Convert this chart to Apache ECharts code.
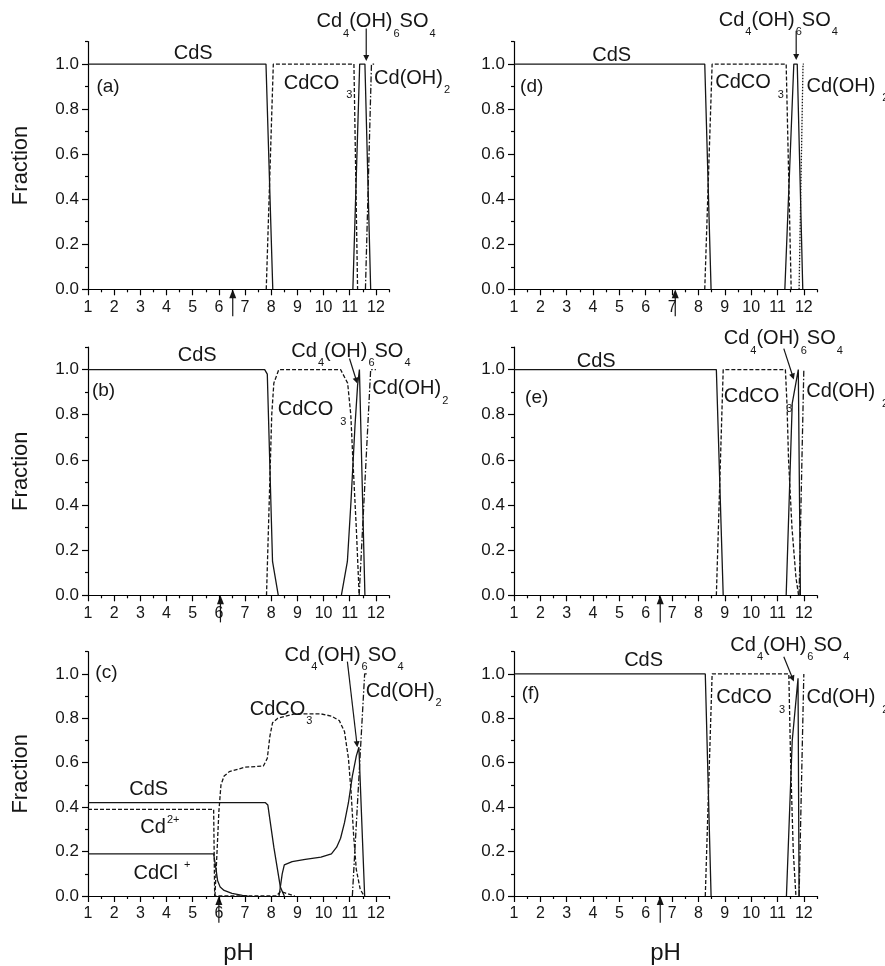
<!DOCTYPE html>
<html>
<head>
<meta charset="utf-8">
<script src="https://cdn.jsdelivr.net/npm/echarts@6/dist/echarts.min.js"></script>
<style>
  html, body { margin: 0; padding: 0; background: #fff; }
  #chart { width: 885px; height: 966px; }
</style>
</head>
<body>
<div id="chart"></div>
<script>
// tick values
const phMajor = [1, 2, 3, 4, 5, 6, 7, 8, 9, 10, 11, 12];
const phMinor = [1.5, 2.5, 3.5, 4.5, 5.5, 6.5, 7.5, 8.5, 9.5, 10.5, 11.5, 12.5];
const fracMajor = [0, 0.2, 0.4, 0.6, 0.8, 1.0];
const fracMinor = [0.1, 0.3, 0.5, 0.7, 0.9, 1.1];

// pH marked by the arrow under each x axis: a, b, c, d, e, f
const markerPH = [6.53, 6.06, 6.0, 7.12, 6.55, 6.55];

// (a)
const cdsA = [[1, 1], [7.8, 1], [8.06, 0]];
const cdco3A = [[7.81, 0], [8.08, 1], [11.16, 1], [11.3, 0]];
const cd4A = [[11.12, 0], [11.38, 1], [11.58, 1], [11.8, 0]];
const cdoh2A = [[11.6, 0], [11.83, 1], [12, 1]];

// (b)
const cdsB = [[1, 1], [7.75, 1], [7.85, 0.98], [8.05, 0.15], [8.27, 0]];
const cdco3B = [[7.82, 0], [7.97, 0.6], [8.02, 0.8], [8.1, 0.94], [8.29, 1], [10.65, 1], [10.92, 0.94], [11.04, 0.8], [11.12, 0.6], [11.25, 0.3], [11.36, 0]];
const cd4B = [[10.68, 0], [10.91, 0.15], [11.05, 0.42], [11.2, 0.75], [11.3, 0.93], [11.37, 1.0], [11.58, 0]];
const cdoh2B = [[11.36, 0], [11.8, 1], [12, 1]];

// (c)
const cdsC = [[1, 0.42], [7.78, 0.42], [7.87, 0.41], [8.1, 0.22], [8.35, 0.04], [8.5, 0]];
const cd2C = [[1, 0.39], [5.8, 0.39], [5.84, 0], [8.2, 0], [8.35, 0.02], [8.5, 0.015], [8.9, 0]];
const cdclC = [[1, 0.19], [5.8, 0.19], [5.88, 0.13], [5.95, 0.07], [6.05, 0.04], [6.2, 0.025], [6.5, 0.012], [6.9, 0.003], [7.1, 0]];
const cdco3C = [[5.85, 0], [5.93, 0.2], [6.0, 0.38], [6.08, 0.5], [6.2, 0.54], [6.4, 0.56], [7.0, 0.58], [7.7, 0.585], [7.85, 0.62], [7.95, 0.72], [8.05, 0.78], [8.25, 0.8], [8.9, 0.82], [9.9, 0.82], [10.3, 0.81], [10.6, 0.79], [10.8, 0.74], [10.95, 0.62], [11.05, 0.47], [11.15, 0.27], [11.25, 0.12], [11.4, 0.03], [11.55, 0]];
const cd4C = [[8.3, 0], [8.42, 0.1], [8.5, 0.14], [8.8, 0.155], [9.3, 0.165], [9.9, 0.175], [10.3, 0.19], [10.5, 0.22], [10.65, 0.26], [10.8, 0.33], [10.95, 0.42], [11.1, 0.54], [11.25, 0.63], [11.35, 0.67], [11.57, 0]];
const cdoh2C = [[11.1, 0], [11.57, 1], [11.67, 1]];

// (d)
const cdsD = [[1, 1], [8.24, 1], [8.48, 0]];
const cdco3D = [[8.24, 0], [8.52, 1], [11.33, 1], [11.52, 0]];
const cd4D = [[11.28, 0], [11.62, 1], [11.75, 1], [11.96, 0]];
const cdoh2D = [[11.82, 0], [11.97, 1], [12, 1]];

// (e)
const cdsE = [[1, 1], [8.68, 1], [8.94, 0]];
const cdco3E = [[8.68, 0], [8.94, 1], [11.3, 1], [11.36, 0.85], [11.42, 0.6], [11.55, 0.3], [11.7, 0.08], [11.8, 0]];
const cd4E = [[11.33, 0], [11.56, 0.85], [11.79, 1.0], [11.87, 0]];
const cdoh2E = [[11.82, 0], [12, 1]];

// (f)
const cdsF = [[1, 1], [8.26, 1], [8.48, 0]];
const cdco3F = [[8.26, 0], [8.52, 1], [11.43, 1], [11.5, 0.6], [11.6, 0.2], [11.7, 0]];
const cd4F = [[11.34, 0], [11.56, 0.7], [11.78, 0.98], [11.82, 0]];
const cdoh2F = [[11.82, 0], [12, 1]];

const FONT = '"Liberation Sans", Arial, Helvetica, sans-serif';
const INK = '#161616';
const DASH = { solid: 'solid', dash: [4, 2], dashdot: [6, 2, 1.5, 2], dot: [1.5, 1.5] };

const cols = [{ left: 88, width: 301 }, { left: 514, width: 303 }];
const rows = [{ top: 41.5, height: 247.8 }, { top: 347, height: 248.3 }, { top: 651.7, height: 247.6 }];

const T_CD4 = '{m|Cd}{s|4}{m|(OH)}{s|6}{m|SO}{s|4}';
const T_CO3 = '{m|CdCO}{g|3}';

const panels = [
  { col: 0, row: 0, tag: '(a)', tagAt: [1.32, 0.897],
    lines: [[cdsA, 'solid'], [cdco3A, 'dash'], [cd4A, 'solid'], [cdoh2A, 'dashdot']],
    labels: [
      { t: '{m|CdS}', at: [5.02, 1.049], align: 'center' },
      { t: T_CO3, at: [8.48, 0.914] },
      { t: '{m|Cd(OH)}{s|2}', at: [11.93, 0.937] },
      { t: T_CD4, at: [9.73, 1.188] }
    ],
    arrows: [[[11.63, 1.158], [11.63, 1.013]]] },
  { col: 0, row: 1, tag: '(b)', tagAt: [1.15, 0.905],
    lines: [[cdsB, 'solid'], [cdco3B, 'dash'], [cd4B, 'solid'], [cdoh2B, 'dashdot']],
    labels: [
      { t: '{m|CdS}', at: [5.17, 1.063], align: 'center' },
      { t: T_CO3, at: [8.25, 0.823] },
      { t: '{m|Cd(OH)}{s|2}', at: [11.86, 0.916] },
      { t: T_CD4, at: [8.77, 1.082] }
    ],
    arrows: [[[10.99, 1.049], [11.29, 0.938]]] },
  { col: 0, row: 2, tag: '(c)', tagAt: [1.28, 1.003],
    lines: [[cdsC, 'solid'], [cd2C, 'dash'], [cdclC, 'solid'], [cdco3C, 'dash'], [cd4C, 'solid'], [cdoh2C, 'dashdot']],
    labels: [
      { t: '{m|CdS}', at: [3.32, 0.478], align: 'center' },
      { t: '{m|Cd}{p|2+}', at: [3.0, 0.308] },
      { t: '{m|CdCl}{q|+}', at: [2.74, 0.103] },
      { t: '{m|CdCO}{s|3}', at: [7.18, 0.84] },
      { t: '{m|Cd(OH)}{s|2}', at: [11.61, 0.921] },
      { t: T_CD4, at: [8.51, 1.084] }
    ],
    arrows: [[[10.91, 1.055], [11.29, 0.67]]] },
  { col: 1, row: 0, tag: '(d)', tagAt: [1.23, 0.9],
    lines: [[cdsD, 'solid'], [cdco3D, 'dash'], [cd4D, 'solid'], [cdoh2D, 'dot']],
    labels: [
      { t: '{m|CdS}', at: [4.71, 1.04], align: 'center' },
      { t: T_CO3, at: [8.64, 0.917] },
      { t: '{m|Cd(OH)}{g|2}', at: [12.1, 0.902] },
      { t: T_CD4, at: [8.77, 1.195] }
    ],
    arrows: [[[11.71, 1.148], [11.71, 1.018]]] },
  { col: 1, row: 1, tag: '(e)', tagAt: [1.42, 0.876],
    lines: [[cdsE, 'solid'], [cdco3E, 'dash'], [cd4E, 'solid'], [cdoh2E, 'dashdot']],
    labels: [
      { t: '{m|CdS}', at: [4.12, 1.034], align: 'center' },
      { t: T_CO3, at: [8.96, 0.879] },
      { t: '{m|Cd(OH)}{g|2}', at: [12.09, 0.901] },
      { t: T_CD4, at: [8.96, 1.137] }
    ],
    arrows: [[[11.24, 1.093], [11.62, 0.956]]] },
  { col: 1, row: 2, tag: '(f)', tagAt: [1.29, 0.911],
    lines: [[cdsF, 'solid'], [cdco3F, 'dash'], [cd4F, 'solid'], [cdoh2F, 'dashdot']],
    labels: [
      { t: '{m|CdS}', at: [5.92, 1.059], align: 'center' },
      { t: T_CO3, at: [8.68, 0.892] },
      { t: '{m|Cd(OH)}{g|2}', at: [12.1, 0.892] },
      { t: T_CD4, at: [9.21, 1.129] }
    ],
    arrows: [[[11.24, 1.077], [11.62, 0.966]]] }
];

const axisLineStyle = { color: '#000', width: 1.2 };
const xLabelStyle = { fontSize: 16, fontFamily: FONT, color: INK };
const yLabelStyle = { fontSize: 17, fontFamily: FONT, color: INK };

const chart = echarts.init(document.getElementById('chart'));

const grids = [];
const xAxes = [];
const yAxes = [];
const series = [];

panels.forEach((p, i) => {
  grids.push({ left: cols[p.col].left, width: cols[p.col].width, top: rows[p.row].top, height: rows[p.row].height });
  // main x axis: line, minor ticks, labels
  xAxes.push({
    type: 'value', gridIndex: i, position: 'bottom', min: 1, max: 12.5,
    axisLine: { show: true, onZero: false, lineStyle: axisLineStyle },
    axisTick: { show: true, length: 3, customValues: phMinor, lineStyle: axisLineStyle },
    axisLabel: { show: true, customValues: phMajor, margin: 10, ...xLabelStyle },
    splitLine: { show: false },
    name: p.row === 2 ? 'pH' : '', nameLocation: 'middle', nameGap: 45,
    nameTextStyle: { fontSize: 24, fontFamily: FONT, color: INK }
  });
  // major ticks only
  xAxes.push({
    type: 'value', gridIndex: i, position: 'bottom', min: 1, max: 12.5,
    axisLine: { show: false },
    axisTick: { show: true, length: 6, customValues: phMajor, lineStyle: axisLineStyle },
    axisLabel: { show: false }, splitLine: { show: false }
  });
  yAxes.push({
    type: 'value', gridIndex: i, position: 'left', min: 0, max: 1.1,
    axisLine: { show: true, onZero: false, lineStyle: axisLineStyle },
    axisTick: { show: true, length: 3, customValues: fracMinor, lineStyle: axisLineStyle },
    axisLabel: { show: true, customValues: fracMajor, margin: 9, formatter: v => v.toFixed(1), ...yLabelStyle },
    splitLine: { show: false },
    name: p.col === 0 ? 'Fraction' : '', nameLocation: 'middle', nameGap: 56, nameRotate: 90,
    nameTextStyle: { fontSize: 22, fontFamily: FONT, color: INK }
  });
  yAxes.push({
    type: 'value', gridIndex: i, position: 'left', min: 0, max: 1.1,
    axisLine: { show: false },
    axisTick: { show: true, length: 6, customValues: fracMajor, lineStyle: axisLineStyle },
    axisLabel: { show: false }, splitLine: { show: false }
  });
  p.lines.forEach(([data, kind]) => {
    series.push({
      type: 'line', xAxisIndex: 2 * i, yAxisIndex: 2 * i, data: data,
      symbol: 'none', silent: true, animation: false,
      lineStyle: { color: INK, width: 1.3, type: DASH[kind] }
    });
  });
});

chart.setOption({
  backgroundColor: '#fff',
  animation: false,
  grid: grids,
  xAxis: xAxes,
  yAxis: yAxes,
  series: series
});

// annotations, placed in data coordinates
const rich = {
  m: { fontSize: 20, fontFamily: FONT, fill: INK },
  s: { fontSize: 11, fontFamily: FONT, fill: INK, padding: [24, 0, 0, 1] },
  g: { fontSize: 11, fontFamily: FONT, fill: INK, padding: [24, 0, 0, 7] },
  p: { fontSize: 11, fontFamily: FONT, fill: INK, padding: [0, 0, 16, 1] },
  q: { fontSize: 11, fontFamily: FONT, fill: INK, padding: [0, 0, 16, 6] }
};

const graphics = [];
const toPx = (i, pt) => chart.convertToPixel({ xAxisIndex: 2 * i, yAxisIndex: 2 * i }, pt);

function arrow(from, to, head, halfW) {
  const dx = to[0] - from[0], dy = to[1] - from[1];
  const len = Math.sqrt(dx * dx + dy * dy);
  const ux = dx / len, uy = dy / len;
  const bx = to[0] - ux * head, by = to[1] - uy * head;
  graphics.push({
    type: 'line', silent: true,
    shape: { x1: from[0], y1: from[1], x2: bx + ux * 1, y2: by + uy * 1 },
    style: { stroke: INK, lineWidth: 1.2 }
  });
  graphics.push({
    type: 'polygon', silent: true,
    shape: { points: [to, [bx - uy * halfW, by + ux * halfW], [bx + uy * halfW, by - ux * halfW]] },
    style: { fill: INK }
  });
}

panels.forEach((p, i) => {
  const tp = toPx(i, p.tagAt);
  graphics.push({
    type: 'text', silent: true, x: tp[0], y: tp[1],
    style: { text: p.tag, fontSize: 19, fontFamily: FONT, fill: INK, align: 'left', verticalAlign: 'middle' }
  });
  p.labels.forEach(l => {
    const pt = toPx(i, l.at);
    graphics.push({
      type: 'text', silent: true, x: pt[0], y: pt[1],
      style: { text: l.t, rich: rich, fontSize: 20, fontFamily: FONT, fill: INK, align: l.align || 'left', verticalAlign: 'middle' }
    });
  });
  p.arrows.forEach(a => arrow(toPx(i, a[0]), toPx(i, a[1]), 6, 3));
  const m = markerPH[i];
  arrow(toPx(i, [m, -0.12]), toPx(i, [m, 0]), 9, 3.5);
});

chart.setOption({ graphic: graphics });
</script>
</body>
</html>
